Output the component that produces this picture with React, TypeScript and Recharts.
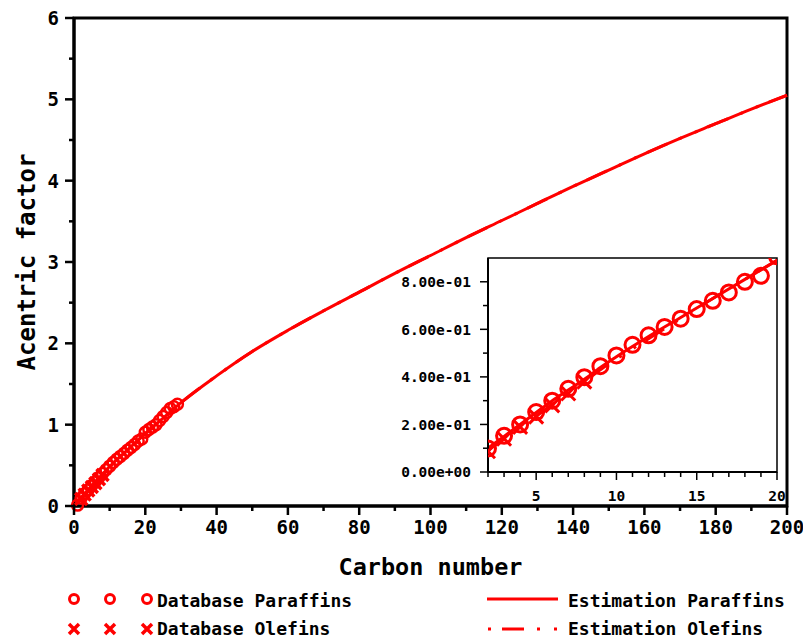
import { ComposedChart, Line, Scatter, XAxis, YAxis, ReferenceArea, Label } from 'recharts'

// n-paraffins: carbon number vs acentric factor
const paraffinCarbon = [1, 2, 3, 4, 5, 6, 7, 8, 9, 10, 11, 12, 13, 14, 15, 16, 17, 18, 19, 20, 21, 22, 23, 24, 25, 26, 27, 28, 29]
const paraffinOmega = [0.011, 0.099, 0.152, 0.2, 0.252, 0.3, 0.35, 0.399, 0.445, 0.49, 0.535, 0.575, 0.61, 0.645, 0.685, 0.72, 0.755, 0.8, 0.825, 0.907, 0.94, 0.97, 1.0, 1.05, 1.1, 1.15, 1.2, 1.22, 1.25]

// 1-olefins
const olefinCarbon = [2, 3, 4, 5, 6, 7, 8]
const olefinOmega = [0.087, 0.14, 0.19, 0.233, 0.28, 0.33, 0.38]

// estimated curves
const estCarbon = [1, 2, 3, 4, 5, 6, 7, 8, 9, 10, 12, 14, 16, 18, 20, 25, 30, 40, 50, 60, 70, 80, 90, 100, 110, 120, 130, 140, 150, 160, 170, 180, 190, 200]
const estParaffinOmega = [0.05, 0.1, 0.15, 0.2, 0.25, 0.3, 0.345, 0.39, 0.44, 0.485, 0.57, 0.65, 0.73, 0.81, 0.89, 1.08, 1.27, 1.6, 1.9, 2.16, 2.4, 2.63, 2.86, 3.08, 3.3, 3.51, 3.72, 3.93, 4.13, 4.33, 4.52, 4.7, 4.88, 5.05]
const estOlefinOmega = [0.04, 0.09, 0.14, 0.19, 0.235, 0.285, 0.335, 0.38, 0.43, 0.475, 0.56, 0.645, 0.73, 0.81, 0.89, 1.08, 1.27, 1.6, 1.9, 2.16, 2.4, 2.63, 2.86, 3.08, 3.3, 3.51, 3.72, 3.93, 4.13, 4.33, 4.52, 4.7, 4.88, 5.05]

const mainXTicks = [0, 10, 20, 30, 40, 50, 60, 70, 80, 90, 100, 110, 120, 130, 140, 150, 160, 170, 180, 190, 200]
const mainYTicks = [0, 0.5, 1, 1.5, 2, 2.5, 3, 3.5, 4, 4.5, 5, 5.5, 6]
const insetXTicks = [2, 3, 4, 5, 6, 7, 8, 9, 10, 11, 12, 13, 14, 15, 16, 17, 18, 19, 20]
const insetYTicks = [0, 0.1, 0.2, 0.3, 0.4, 0.5, 0.6, 0.7, 0.8]

const toPoints = (xs: number[], ys: number[]) => xs.map((x, i) => ({ x, y: ys[i] }))

const paraffins = toPoints(paraffinCarbon, paraffinOmega)
const olefins = toPoints(olefinCarbon, olefinOmega)
const estParaffins = toPoints(estCarbon, estParaffinOmega)
const estOlefins = toPoints(estCarbon, estOlefinOmega)

const FONT = "'DejaVu Sans Mono', monospace"
const RED = '#ff0000'
const OLEFIN_DASH = '3 11 22 13 3 14'

const fmtExp = (v: number) => {
  const [m, e] = v.toExponential(2).split('e')
  const n = parseInt(e, 10)
  return `${m}e${n < 0 ? '-' : '+'}${String(Math.abs(n)).padStart(2, '0')}`
}

const circleShape = (r: number, w: number) => (p: any) =>
  <circle cx={p.cx} cy={p.cy} r={r} fill="none" stroke={RED} strokeWidth={w} />

const crossShape = (s: number, w: number) => (p: any) => (
  <path d={`M${p.cx - s},${p.cy - s}L${p.cx + s},${p.cy + s}M${p.cx - s},${p.cy + s}L${p.cx + s},${p.cy - s}`}
    stroke={RED} strokeWidth={w} fill="none" />
)

function MainXTick({ x, y, payload }: any) {
  const major = payload.value % 20 === 0
  return (
    <g>
      <line x1={x} x2={x} y1={y} y2={y + (major ? 9 : 5)} stroke="#000" strokeWidth={2.5} />
      {major && (
        <text x={x} y={y + 15} dy="0.71em" textAnchor="middle" fontFamily={FONT} fontWeight="bold" fontSize={19}>
          {payload.value}
        </text>
      )}
    </g>
  )
}

function MainYTick({ x, y, payload }: any) {
  const major = Number.isInteger(payload.value)
  return (
    <g>
      <line x1={x - (major ? 9 : 5)} x2={x} y1={y} y2={y} stroke="#000" strokeWidth={2.5} />
      {major && (
        <text x={x - 15} y={y} dy="0.36em" textAnchor="end" fontFamily={FONT} fontWeight="bold" fontSize={19}>
          {payload.value}
        </text>
      )}
    </g>
  )
}

function InsetXTick({ x, y, payload }: any) {
  const major = payload.value % 5 === 0
  return (
    <g>
      <line x1={x} x2={x} y1={y} y2={y + (major ? 8 : 5)} stroke="#000" strokeWidth={1.5} />
      {major && (
        <text x={x} y={y + 24} dy="0.36em" textAnchor="middle" fontFamily={FONT} fontWeight="bold" fontSize={14.5}>
          {payload.value}
        </text>
      )}
    </g>
  )
}

function InsetYTick({ x, y, payload }: any) {
  const major = Math.round(payload.value * 10) % 2 === 0
  return (
    <g>
      <line x1={x - (major ? 8 : 5)} x2={x} y1={y} y2={y} stroke="#000" strokeWidth={1.5} />
      {major && (
        <text x={x - 17} y={y} dy="0.36em" textAnchor="end" fontFamily={FONT} fontWeight="bold" fontSize={14.5}>
          {fmtExp(payload.value)}
        </text>
      )}
    </g>
  )
}

function MainChart() {
  return (
    <ComposedChart width={803} height={638} margin={{ top: 18, right: 16, bottom: 62, left: 0 }}>
      <XAxis type="number" dataKey="x" domain={[0, 200]} ticks={mainXTicks} interval={0}
        tickSize={0} tickMargin={0} tickLine={false} tick={(p: any) => <MainXTick {...p} />}
        axisLine={{ stroke: '#000', strokeWidth: 3 }} height={70}>
        <Label content={({ viewBox }: any) => (
          <text x={viewBox.x + viewBox.width / 2} y={viewBox.y + 69} textAnchor="middle"
            fontFamily={FONT} fontWeight="bold" fontSize={23.5}>Carbon number</text>
        )} />
      </XAxis>
      <YAxis type="number" dataKey="y" domain={[0, 6]} ticks={mainYTicks} interval={0}
        tickSize={0} tickMargin={0} tickLine={false} tick={(p: any) => <MainYTick {...p} />}
        axisLine={{ stroke: '#000', strokeWidth: 3 }} width={74}>
        <Label content={({ viewBox }: any) => {
          const cx = viewBox.x + 35
          const cy = viewBox.y + viewBox.height / 2
          return (
            <text x={cx} y={cy} transform={`rotate(-90 ${cx} ${cy})`} textAnchor="middle"
              fontFamily={FONT} fontWeight="bold" fontSize={24}>Acentric factor</text>
          )
        }} />
      </YAxis>
      <Line type="monotone" data={estOlefins} dataKey="y" stroke={RED} strokeWidth={3} strokeDasharray={OLEFIN_DASH}
        dot={false} isAnimationActive={false} />
      <Line type="monotone" data={estParaffins} dataKey="y" stroke={RED} strokeWidth={3} dot={false} isAnimationActive={false} />
      <Scatter data={olefins} shape={crossShape(6, 3.5)} isAnimationActive={false} />
      <Scatter data={paraffins} shape={circleShape(5.5, 2.5)} isAnimationActive={false} />
      <ReferenceArea x1={0} x2={200} y1={0} y2={6} fill="none" stroke="#000" strokeWidth={3} />
    </ComposedChart>
  )
}

function InsetChart() {
  return (
    <ComposedChart width={395} height={260} margin={{ top: 8, right: 18, bottom: 8, left: 0 }}>
      <XAxis type="number" dataKey="x" domain={[2, 20]} allowDataOverflow ticks={insetXTicks} interval={0}
        tickSize={0} tickMargin={0} tickLine={false} tick={(p: any) => <InsetXTick {...p} />}
        axisLine={{ stroke: '#000', strokeWidth: 2 }} height={30} />
      <YAxis type="number" dataKey="y" domain={[0, 0.9]} allowDataOverflow ticks={insetYTicks} interval={0}
        tickSize={0} tickMargin={0} tickLine={false} tick={(p: any) => <InsetYTick {...p} />}
        axisLine={{ stroke: '#000', strokeWidth: 2 }} width={88} />
      <Line type="monotone" data={estOlefins} dataKey="y" stroke={RED} strokeWidth={3} strokeDasharray={OLEFIN_DASH}
        dot={false} isAnimationActive={false} />
      <Line type="monotone" data={estParaffins} dataKey="y" stroke={RED} strokeWidth={3} dot={false} isAnimationActive={false} />
      <Scatter data={olefins} shape={crossShape(7, 3)} isAnimationActive={false} />
      <Scatter data={paraffins} shape={circleShape(7.5, 3)} isAnimationActive={false} />
      <ReferenceArea x1={2} x2={20} y1={0} y2={0.9} fill="none" stroke="#000" strokeWidth={1.5} />
    </ComposedChart>
  )
}

function LegendBox() {
  const txt = { fontFamily: FONT, fontWeight: 'bold' as const, fontSize: 18 }
  const markerX = [74, 110, 147]
  return (
    <svg width={803} height={638} style={{ position: 'absolute', left: 0, top: 0, pointerEvents: 'none' }}>
      {markerX.map((mx) => (
        <g key={mx}>
          {circleShape(4.5, 3)({ cx: mx, cy: 599 })}
          {crossShape(5, 3.5)({ cx: mx, cy: 629 })}
        </g>
      ))}
      <text x={157} y={607} {...txt}>Database Paraffins</text>
      <text x={157} y={635} {...txt}>Database Olefins</text>
      <line x1={487} x2={558} y1={599} y2={599} stroke={RED} strokeWidth={3} />
      <line x1={488} x2={560} y1={629} y2={629} stroke={RED} strokeWidth={3} strokeDasharray={OLEFIN_DASH} />
      <text x={568} y={607} {...txt}>Estimation Paraffins</text>
      <text x={568} y={635} {...txt}>Estimation Olefins</text>
    </svg>
  )
}

export default function App() {
  return (
    <div style={{ position: 'absolute', left: 0, top: 0, width: 803, height: 638, background: '#fff' }}>
      <MainChart />
      <div style={{ position: 'absolute', left: 400, top: 250 }}>
        <InsetChart />
      </div>
      <LegendBox />
    </div>
  )
}
